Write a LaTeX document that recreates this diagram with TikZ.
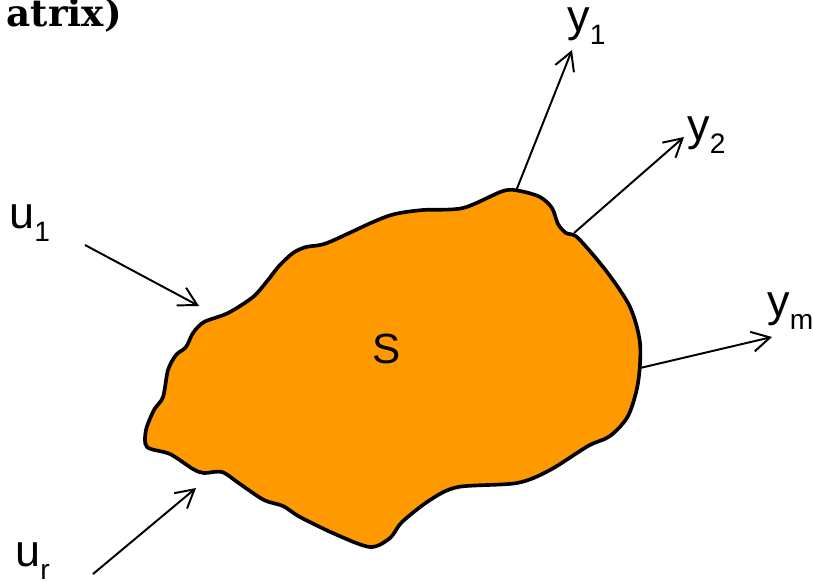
\documentclass[tikz,border=0pt]{standalone}
\usepackage{fontspec}
\setmainfont{Liberation Sans}
\newfontfamily\headfont{DejaVu Serif}
\usepackage{tikz}
\usetikzlibrary{arrows.meta,positioning}
\definecolor{blobfill}{RGB}{255,153,0}
\newcommand{\lowidx}[1]{\raisebox{-0.3em}{\fontsize{20}{20}\selectfont #1}}

\begin{document}
\begin{tikzpicture}[
    x=0.025cm, y=-0.025cm,
    sig/.style={inner sep=0pt, anchor=base west, font=\fontsize{32}{36}\selectfont},
    arr/.style={-{Straight Barb[length=4.5mm, width=5mm]}, line width=1.4pt},
    blob/.style={fill=blobfill, draw=black, line width=2.6pt, line join=round},
]
\useasboundingbox (0,0) rectangle (813,581);
\node[inner sep=0pt, anchor=base east, font=\headfont\bfseries\fontsize{26.5}{30}\selectfont] (head) at (122,26) {atrix)};
% the system
\draw[blob] plot[smooth cycle, tension=0.5] coordinates {
    (463,208) (503,191) (520,191) (540,197) (552,208) (558,224) (566,233) (578,238)
    (607,272) (630,307) (640,343) (638,383) (628,416) (610,436) (588,446) (550,470)
    (517,483) (458,487) (430,500) (402,522) (390,538) (370,547) (335,534) (300,517)
    (283,506) (264,500) (240,484) (222,472) (204,473) (193,469) (170,454) (147,447)
    (146,430) (154,410) (163,397) (168,370) (176,355) (186,347) (193,333) (204,322)
    (228,313) (253,297) (268,280) (279,266) (293,253) (306,247) (327,243) (373,222)
    (395,214) (423,210)};
\node[inner sep=0pt, font=\fontsize{30}{36}\selectfont] (sys) at (387,349) {S};
% inputs
\coordinate (u1s) at (85,245);
\coordinate (u1e) at (199,306);
\coordinate (urs) at (93,574);
\coordinate (ure) at (196,488);
% outputs
\coordinate (y1s) at (516,191);
\coordinate (y1e) at (572,50);
\coordinate (y2s) at (574,233);
\coordinate (y2e) at (684,137);
\coordinate (yms) at (640,368);
\coordinate (yme) at (772,337);
\draw[arr] (u1s) -- (u1e);
\draw[arr] (urs) -- (ure);
\draw[arr] (y1s) -- (y1e);
\draw[arr] (y2s) -- (y2e);
\draw[arr] (yms) -- (yme);
\node[sig] (u1) at (9,228) {u\lowidx{1}};
\node[sig] (ur) at (15,566) {u\lowidx{r}};
\node[sig] (y1) at (567,31) {y\lowidx{1}};
\node[sig] (y2) at (687,140) {y\lowidx{2}};
\node[sig] (ym) at (767,316) {y\lowidx{m}};
\end{tikzpicture}
\end{document}
